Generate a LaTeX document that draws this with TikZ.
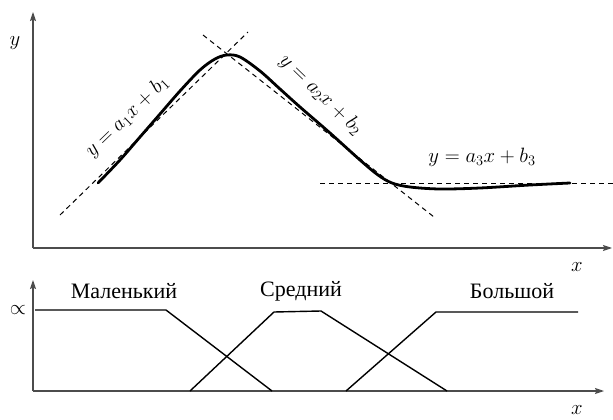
\documentclass[tikz,border=0pt]{standalone}
\usepackage{fontspec}
\setmainfont{Liberation Serif}
\newfontfamily\tnr{Liberation Serif}
\usetikzlibrary{arrows.meta}
\tikzset{
  axis/.style={draw=black!70, line width=1.1pt, -{Stealth[length=9pt,width=6pt,inset=1.5pt]}},
  curve/.style={draw=black, line width=2.8pt, line cap=round, line join=round},
  tangent/.style={draw=black, line width=1pt, dash pattern=on 5pt off 4pt},
  memb/.style={draw=black, line width=1.4pt, line join=round},
  lbl/.style={inner sep=0pt, font=\tnr\fontsize{22}{26}\selectfont},
  eqstyle/.style={inner sep=0pt, font=\fontsize{21}{26}\selectfont},
  axlbl/.style={inner sep=0pt, font=\fontsize{22}{26}\selectfont},
}
\newcommand{\eqlbl}[1]{$y = a_{#1}x + b_{#1}$}
\begin{document}
\begin{tikzpicture}[x=1pt,y=-1pt]
\useasboundingbox (0,0) rectangle (613,420);
% top plot axes
\coordinate (O1) at (33,248);
\coordinate (Y1) at (33,12);
\coordinate (X1) at (612,248);
\draw[axis] (O1) -- (Y1);
\draw[axis] (O1) -- (X1);
\node[axlbl] (ylab) at (15,43) {$y$};
\node[axlbl] (xlab1) at (577,267) {$x$};
% tangents
\coordinate (t1a) at (60,215);
\coordinate (t1b) at (248,32);
\coordinate (t2a) at (203,35);
\coordinate (t2b) at (434,217);
\coordinate (t3a) at (320,183);
\coordinate (t3b) at (613,183);
\draw[tangent] (t1a) -- (t1b);
\draw[tangent] (t2a) -- (t2b);
\draw[tangent] (t3a) -- (t3b);
% curve
\draw[curve] plot[smooth, tension=0.55] coordinates {
 (98,183) (120,160) (140,137) (160,114) (180,91) (200,70) (215,59) (227,55)
 (240,57) (260,71) (280,89) (300,107) (330,133) (360,160) (378,175) (392,183)
 (410,187) (440,189) (480,188) (530,185) (570,183)};
% labels
\node[eqstyle, rotate=44] (eq1) at (127,117) {\eqlbl{1}};
\node[eqstyle, rotate=-44] (eq2) at (321,95) {\eqlbl{2}};
\node[eqstyle] (eq3) at (482,157) {\eqlbl{3}};
% bottom plot axes
\coordinate (O2) at (33,391);
\coordinate (Y2) at (33,280);
\coordinate (X2) at (604,391);
\draw[axis] (O2) -- (Y2);
\draw[axis] (O2) -- (X2);
\node[inner sep=0pt] (prop) at (18,310) {\fontsize{20}{22}\selectfont$\propto$};
\node[axlbl] (xlab2) at (577,410) {$x$};
% membership functions
\coordinate (m1) at (35,310);
\coordinate (m2) at (166,310);
\coordinate (m3) at (272,391);
\draw[memb] (m1) -- (m2) -- (m3);
\coordinate (s1) at (190,391);
\coordinate (s2) at (274,312);
\coordinate (s3) at (321,311);
\coordinate (s4) at (447,391);
\draw[memb] (s1) -- (s2) -- (s3) -- (s4);
\coordinate (b1) at (346,391);
\coordinate (b2) at (436,312);
\coordinate (b3) at (578,312);
\draw[memb] (b1) -- (b2) -- (b3);
\node[lbl] (small) at (124,291) {Маленький};
\node[lbl] (mid) at (301,291) {Средний};
\node[lbl] (big) at (512,291) {Большой};
\end{tikzpicture}
\end{document}
